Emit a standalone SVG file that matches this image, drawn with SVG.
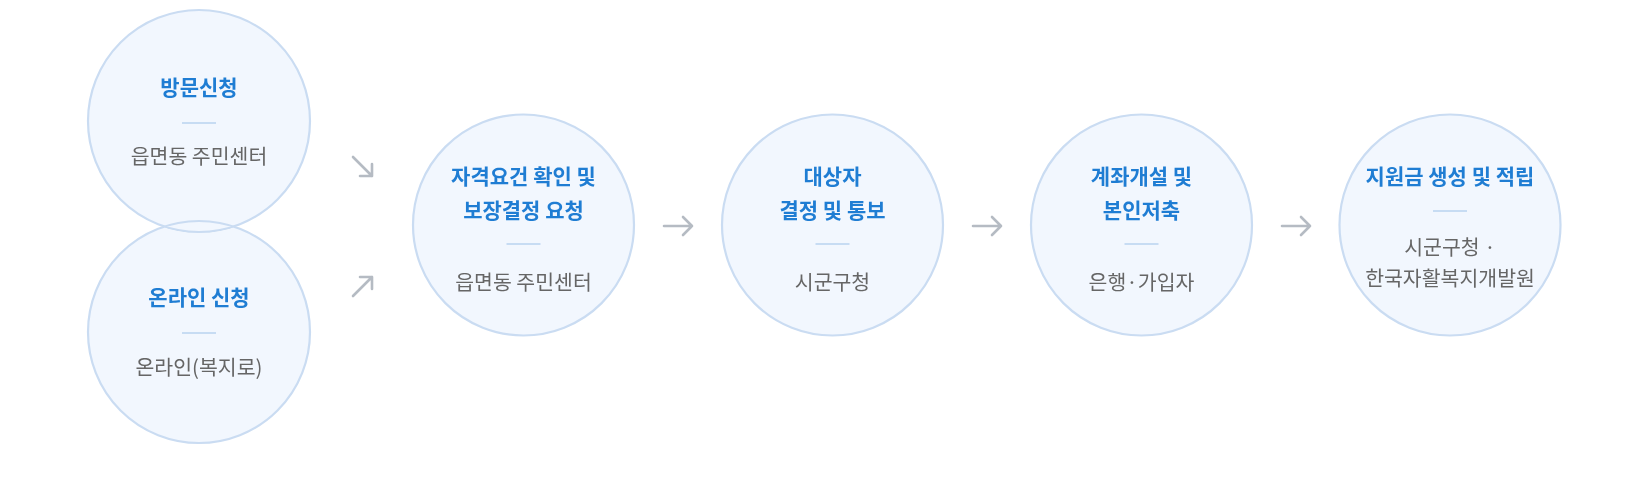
<svg xmlns="http://www.w3.org/2000/svg" width="1650" height="480" viewBox="0 0 1650 480">
<defs>
<style>
.c{fill:#f2f7fe;stroke:#cadcf2;stroke-width:2.2;mix-blend-mode:darken}
.t{font-family:"Noto Sans CJK KR","Noto Sans",sans-serif;font-size:21px;font-weight:700;fill:#1f7dd3;text-anchor:middle}
.s{font-family:"Noto Sans CJK KR","Noto Sans",sans-serif;font-size:20.5px;font-weight:400;fill:#666;text-anchor:middle}
.d{stroke:#c7dcf3;stroke-width:2}
.a{fill:none;stroke:#b5bbc3;stroke-width:2.6;stroke-linecap:round;stroke-linejoin:round}
</style>
</defs>
<rect width="1650" height="480" fill="#fff"/>
<g id="node-visit">
<circle class="c" cx="199" cy="121" r="111"/>
<text class="t" x="199" y="95">방문신청</text>
<line class="d" x1="182" y1="123" x2="216" y2="123"/>
<text class="s" x="199" y="164">읍면동 주민센터</text>
</g>
<g id="node-online">
<circle class="c" cx="199" cy="332" r="111"/>
<text class="t" x="199" y="305">온라인 신청</text>
<line class="d" x1="182" y1="333" x2="216" y2="333"/>
<text class="s" x="199" y="375">온라인(복지로)</text>
</g>
<g id="node-check">
<circle class="c" cx="523.5" cy="225" r="110.5"/>
<text class="t" x="523.5" y="184">자격요건 확인 및</text>
<text class="t" x="523.5" y="218">보장결정 요청</text>
<line class="d" x1="506.5" y1="244" x2="540.5" y2="244"/>
<text class="s" x="523.5" y="290">읍면동 주민센터</text>
</g>
<g id="node-decide">
<circle class="c" cx="832.5" cy="225" r="110.5"/>
<text class="t" x="832.5" y="184">대상자</text>
<text class="t" x="832.5" y="218">결정 및 통보</text>
<line class="d" x1="815.5" y1="244" x2="849.5" y2="244"/>
<text class="s" x="832.5" y="290">시군구청</text>
</g>
<g id="node-account">
<circle class="c" cx="1141.5" cy="225" r="110.5"/>
<text class="t" x="1141.5" y="184">계좌개설 및</text>
<text class="t" x="1141.5" y="218">본인저축</text>
<line class="d" x1="1124.5" y1="244" x2="1158.5" y2="244"/>
<text class="s" x="1141.5" y="290">은행·가입자</text>
</g>
<g id="node-fund">
<circle class="c" cx="1450" cy="225" r="110.5"/>
<text class="t" x="1450" y="184">지원금 생성 및 적립</text>
<line class="d" x1="1433" y1="211" x2="1467" y2="211"/>
<text class="s" x="1450" y="255">시군구청 ·</text>
<text class="s" x="1450" y="286">한국자활복지개발원</text>
</g>
<g id="connectors">
<path class="a" d="M353 157 L372 176 M372 164 L372 176 L360 176"/>
<path class="a" d="M353 296 L372 277 M360 277 L372 277 L372 289"/>
<path class="a" d="M664 226 L692 226 M683 217 L692 226 L683 235"/>
<path class="a" d="M973 226 L1001 226 M992 217 L1001 226 L992 235"/>
<path class="a" d="M1282 226 L1310 226 M1301 217 L1310 226 L1301 235"/>
</g>
</svg>
